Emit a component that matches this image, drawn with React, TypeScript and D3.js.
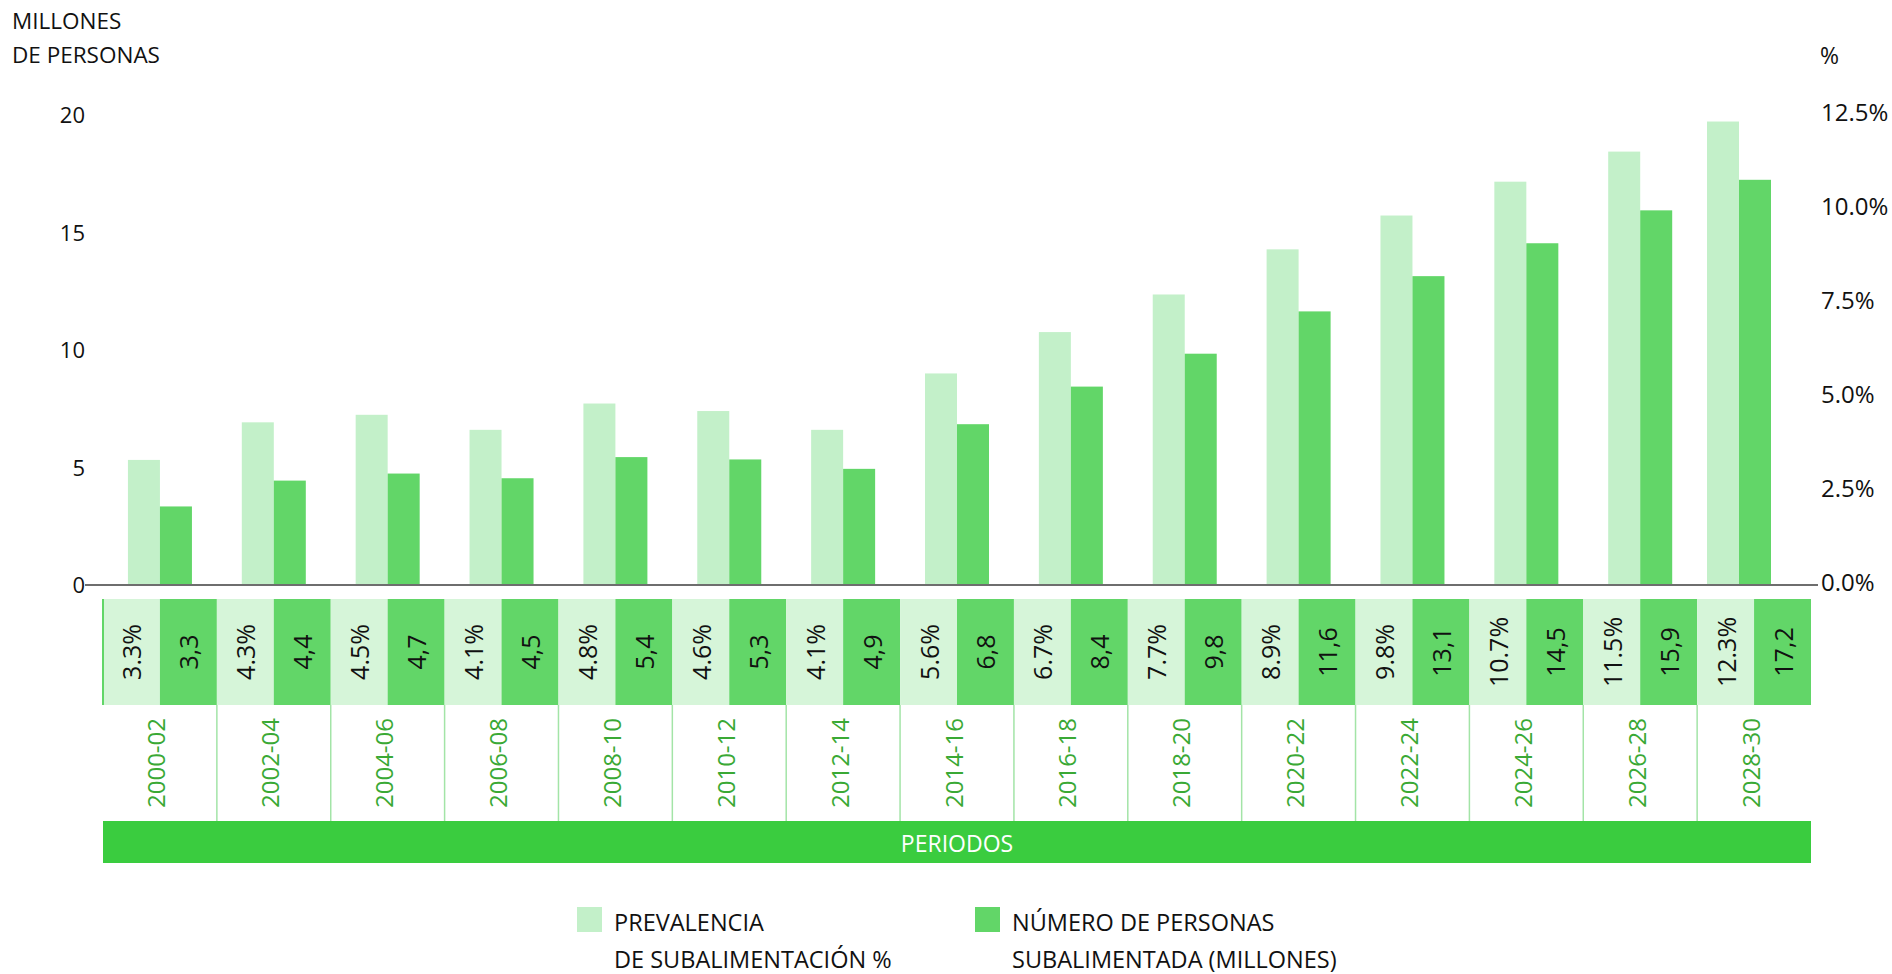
import * as d3 from "d3";
import React from "react";

// data
const periods = [
  "2000-02", "2002-04", "2004-06", "2006-08", "2008-10",
  "2010-12", "2012-14", "2014-16", "2016-18", "2018-20",
  "2020-22", "2022-24", "2024-26", "2026-28", "2028-30",
];
const prevalence = [3.3, 4.3, 4.5, 4.1, 4.8, 4.6, 4.1, 5.6, 6.7, 7.7, 8.9, 9.8, 10.7, 11.5, 12.3];
const people = [3.3, 4.4, 4.7, 4.5, 5.4, 5.3, 4.9, 6.8, 8.4, 9.8, 11.6, 13.1, 14.5, 15.9, 17.2];
const leftTicks = [0, 5, 10, 15, 20];
const rightTicks = [0, 2.5, 5, 7.5, 10, 12.5];

const LIGHT = "#c3f0c9";
const DARK = "#62d668";
const CELL_LIGHT = "#d6f5d9";
const BAND = "#3acc3f";
const YEAR_TXT = "#3aa935";
const FONT = "'Open Sans', 'Noto Sans', sans-serif";

const App = () => {
  const ref = React.useRef<SVGSVGElement>(null);

  React.useEffect(() => {
    const svg = d3.select(ref.current);
    svg.selectAll("*").remove();

    const width = 1892,
      height = 974;
    svg.attr("width", width).attr("height", height);

    const tableLeft = 103,
      tableRight = 1811;
    const axisLeft = 85,
      axisRight = 1818;
    const baseY = 584,
      topY = 114;
    const barW = 32;
    const barsMaxRight = 1771;

    const x = d3.scaleBand().domain(periods).range([tableLeft, tableRight]);
    const yL = d3.scaleLinear().domain([0, 20]).range([baseY, topY]);
    const yR = d3.scaleLinear().domain([0, 12.5]).range([baseY, topY]);

    const rows = periods.map((p, i) => ({ p, prev: prevalence[i], num: people[i] }));
    const center = (p) => Math.min(x(p) + x.bandwidth() / 2, barsMaxRight - barW);

    // bars
    const g = svg.append("g");
    g.selectAll(".prev")
      .data(rows)
      .enter()
      .append("rect")
      .attr("x", (d) => center(d.p) - barW)
      .attr("y", (d) => yR(d.prev))
      .attr("width", barW)
      .attr("height", (d) => baseY - yR(d.prev))
      .attr("fill", LIGHT);
    g.selectAll(".num")
      .data(rows)
      .enter()
      .append("rect")
      .attr("x", (d) => center(d.p))
      .attr("y", (d) => yL(d.num))
      .attr("width", barW)
      .attr("height", (d) => baseY - yL(d.num))
      .attr("fill", DARK);

    // baseline
    svg
      .append("line")
      .attr("x1", axisLeft)
      .attr("x2", axisRight)
      .attr("y1", baseY + 1)
      .attr("y2", baseY + 1)
      .attr("stroke", "#6e6e6e")
      .attr("stroke-width", 2);

    // left axis labels
    svg
      .selectAll(".lt")
      .data(leftTicks)
      .enter()
      .append("text")
      .attr("x", axisLeft)
      .attr("y", (d) => yL(d))
      .attr("text-anchor", "end")
      .attr("dominant-baseline", "central")
      .attr("font-family", FONT)
      .attr("font-size", 22)
      .attr("fill", "#111")
      .text((d) => d);

    // right axis labels
    svg
      .selectAll(".rt")
      .data(rightTicks)
      .enter()
      .append("text")
      .attr("x", axisRight + 3)
      .attr("y", (d) => yR(d) - 3)
      .attr("dominant-baseline", "central")
      .attr("font-family", FONT)
      .attr("font-size", 24)
      .attr("fill", "#111")
      .text((d) => d.toFixed(1) + "%");

    // axis titles
    const title = svg
      .append("text")
      .attr("font-family", FONT)
      .attr("font-size", 22.5)
      .attr("fill", "#111");
    title.append("tspan").attr("x", 12).attr("y", 29).text("MILLONES");
    title.append("tspan").attr("x", 12).attr("y", 63).text("DE PERSONAS");
    svg
      .append("text")
      .attr("x", 1820)
      .attr("y", 64)
      .attr("font-family", FONT)
      .attr("font-size", 23)
      .attr("fill", "#111")
      .text("%");

    // table: values row
    const rowTop = 599,
      rowMid = 705,
      rowBot = 821,
      bandBot = 863;
    const half = x.bandwidth() / 2;
    const table = svg.append("g");
    const cells = table.selectAll(".cell").data(rows).enter().append("g");
    cells
      .append("rect")
      .attr("x", (d) => x(d.p))
      .attr("y", rowTop)
      .attr("width", half)
      .attr("height", rowMid - rowTop)
      .attr("fill", CELL_LIGHT);
    cells
      .append("rect")
      .attr("x", (d) => x(d.p) + half)
      .attr("y", rowTop)
      .attr("width", half)
      .attr("height", rowMid - rowTop)
      .attr("fill", DARK);
    cells
      .append("text")
      .attr("transform", (d) => `translate(${x(d.p) + half / 2},${(rowTop + rowMid) / 2}) rotate(-90)`)
      .attr("text-anchor", "middle")
      .attr("dominant-baseline", "central")
      .attr("font-family", FONT)
      .attr("font-size", 25)
      .attr("fill", "#111")
      .text((d) => d.prev.toFixed(1) + "%");
    cells
      .append("text")
      .attr("transform", (d) => `translate(${x(d.p) + half * 1.5},${(rowTop + rowMid) / 2}) rotate(-90)`)
      .attr("text-anchor", "middle")
      .attr("dominant-baseline", "central")
      .attr("font-family", FONT)
      .attr("font-size", 25)
      .attr("fill", "#111")
      .text((d) => d.num.toFixed(1).replace(".", ","));

    // left edge of table
    table
      .append("line")
      .attr("x1", tableLeft)
      .attr("x2", tableLeft)
      .attr("y1", rowTop)
      .attr("y2", rowMid)
      .attr("stroke", DARK)
      .attr("stroke-width", 2);

    // year row separators
    table
      .selectAll(".sep")
      .data(periods.slice(1))
      .enter()
      .append("line")
      .attr("x1", (d) => x(d))
      .attr("x2", (d) => x(d))
      .attr("y1", rowMid)
      .attr("y2", rowBot)
      .attr("stroke", "#a3e4a7")
      .attr("stroke-width", 1.5);

    table
      .selectAll(".yr")
      .data(periods)
      .enter()
      .append("text")
      .attr("transform", (d) => `translate(${x(d) + half - 4},${(rowMid + rowBot) / 2}) rotate(-90)`)
      .attr("text-anchor", "middle")
      .attr("dominant-baseline", "central")
      .attr("font-family", FONT)
      .attr("font-size", 24)
      .attr("fill", YEAR_TXT)
      .text((d) => d);

    // PERIODOS band
    table
      .append("rect")
      .attr("x", tableLeft)
      .attr("y", rowBot)
      .attr("width", tableRight - tableLeft)
      .attr("height", bandBot - rowBot)
      .attr("fill", BAND);
    table
      .append("text")
      .attr("x", (tableLeft + tableRight) / 2)
      .attr("y", (rowBot + bandBot) / 2 + 1)
      .attr("text-anchor", "middle")
      .attr("dominant-baseline", "central")
      .attr("font-family", FONT)
      .attr("font-size", 23)
      .attr("fill", "#fff")
      .text("PERIODOS");

    // legend
    const legend = [
      { x: 577, color: LIGHT, lines: ["PREVALENCIA", "DE SUBALIMENTACIÓN %"] },
      { x: 975, color: DARK, lines: ["NÚMERO DE PERSONAS", "SUBALIMENTADA (MILLONES)"] },
    ];
    const lg = svg.selectAll(".lg").data(legend).enter().append("g");
    lg.append("rect")
      .attr("x", (d) => d.x)
      .attr("y", 907)
      .attr("width", 25)
      .attr("height", 25)
      .attr("fill", (d) => d.color);
    const lt = lg
      .append("text")
      .attr("font-family", FONT)
      .attr("font-size", 23.5)
      .attr("fill", "#111");
    lt.append("tspan")
      .attr("x", (d) => d.x + 37)
      .attr("y", 931)
      .text((d) => d.lines[0]);
    lt.append("tspan")
      .attr("x", (d) => d.x + 37)
      .attr("y", 968)
      .text((d) => d.lines[1]);
  }, []);

  return (
    <div style={{ position: "absolute", left: 0, top: 0 }}>
      <svg ref={ref} style={{ display: "block" }} />
    </div>
  );
};

export default App;
